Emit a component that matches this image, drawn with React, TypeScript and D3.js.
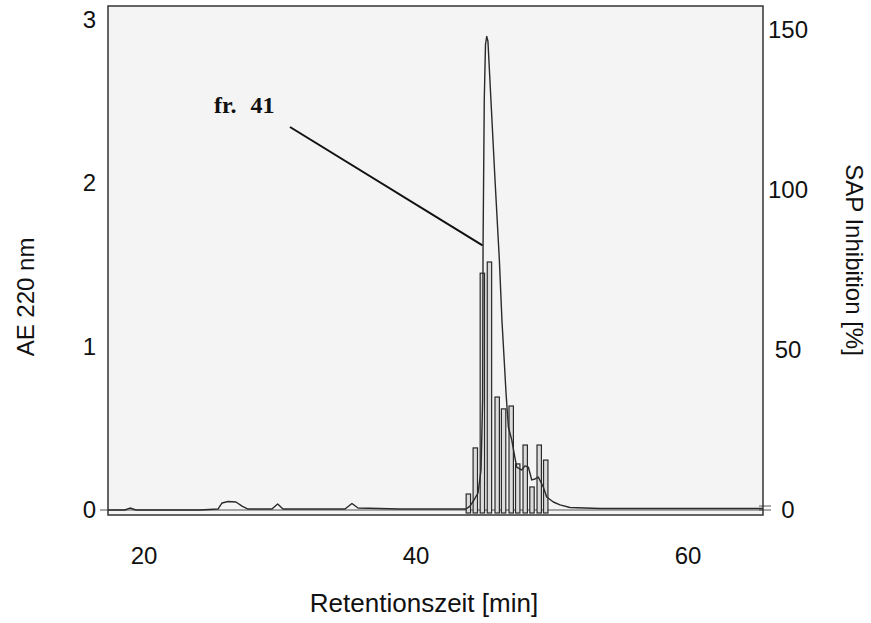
import { useEffect, useRef } from "react";
import * as d3 from "d3";

// chromatogram trace: retention time [min] and absorbance at 220 nm
const traceTime = [
  17.35, 18.6, 18.97, 19.41, 24.12, 25.44, 25.74, 26.18, 26.76, 27.21, 27.65, 29.41, 29.83, 30.22,
  34.78, 35.29, 35.74, 38.82, 43.68, 43.97, 44.26, 44.56, 44.78, 44.9, 44.93, 45.02, 45.11, 45.2,
  45.29, 45.51, 45.81, 46.13, 46.32, 46.47, 46.62, 46.79, 47.04, 47.4, 47.77, 48.01, 48.26, 48.51,
  48.75, 48.99, 49.36, 49.61, 50.1, 50.59, 51.32, 53.53, 65.51,
];
const traceAE = [
  0, 0, 0.012, 0, 0, 0.006, 0.043, 0.052, 0.049, 0.024, 0.006, 0.006, 0.037, 0.006,
  0.006, 0.04, 0.012, 0.006, 0.006, 0.024, 0.061, 0.104, 0.245, 0.673, 1.61, 2.51, 2.85, 2.9,
  2.87, 2.51, 2.02, 1.53, 1.16, 0.94, 0.716, 0.508, 0.429, 0.263, 0.245, 0.27, 0.263, 0.184,
  0.19, 0.202, 0.141, 0.08, 0.049, 0.031, 0.015, 0.009, 0.009,
];

// collected fractions 39..50: centre time and SAP inhibition [%]
const fractionNo = [39, 40, 41, 42, 43, 44, 45, 46, 47, 48, 49, 50];
const fractionTime = [43.85, 44.36, 44.88, 45.4, 45.97, 46.44, 47.0, 47.48, 48.03, 48.53, 49.06, 49.54];
const inhibition = [5, 19.4, 74, 77.5, 35.3, 31.6, 32.5, 14.4, 20.3, 7.2, 20.3, 15.6];

const xTicks = [20, 40, 60];
const leftTicks = [0, 1, 2, 3];
const rightTicks = [0, 50, 100, 150];

// where the "fr. 41" pointer ends on the trace
const pointerTarget = { t: 44.89, v: 1.62 };

const W = 871;
const H = 623;
const frame = { left: 108, right: 763, top: 6, bottom: 515 };

export default function App() {
  const svgRef = useRef<SVGSVGElement>(null);

  useEffect(() => {
    if (!svgRef.current) return;
    const svg = d3.select(svgRef.current);
    svg.selectAll("*").remove();

    const x = d3.scaleLinear().domain([20, 60]).range([144, 688]);
    const yL = d3.scaleLinear().domain([0, 3]).range([510, 20]);
    const yR = d3.scaleLinear().domain([0, 150]).range([510, 30]);
    const font = "'Liberation Sans', Arial, sans-serif";
    const ink = "#2a2a2a";

    // plot area
    svg
      .append("rect")
      .attr("x", frame.left)
      .attr("y", frame.top)
      .attr("width", frame.right - frame.left)
      .attr("height", frame.bottom - frame.top)
      .attr("fill", "#f4f4f4");

    // zero line
    svg
      .append("line")
      .attr("x1", frame.left - 8)
      .attr("x2", frame.right)
      .attr("y1", yL(0))
      .attr("y2", yL(0))
      .attr("stroke", "#555")
      .attr("stroke-width", 1);
    [yR(0) - 4, yR(0)].forEach((yy) => {
      svg
        .append("line")
        .attr("x1", frame.right - 4)
        .attr("x2", frame.right + 8)
        .attr("y1", yy)
        .attr("y2", yy)
        .attr("stroke", "#555")
        .attr("stroke-width", 1);
    });

    // inhibition bars
    const barW = 4.4;
    fractionNo.forEach((_, i) => {
      svg
        .append("rect")
        .attr("x", x(fractionTime[i]) - barW / 2)
        .attr("y", yR(inhibition[i]))
        .attr("width", barW)
        .attr("height", frame.bottom - 2 - yR(inhibition[i]))
        .attr("fill", "#dcdcdc")
        .attr("stroke", ink)
        .attr("stroke-width", 1.2);
    });

    // chromatogram trace
    const line = d3
      .line<number>()
      .x((_, i) => x(traceTime[i]))
      .y((d) => yL(d))
      .curve(d3.curveLinear);
    svg
      .append("path")
      .datum(traceAE)
      .attr("fill", "none")
      .attr("stroke", ink)
      .attr("stroke-width", 1.4)
      .attr("stroke-linejoin", "round")
      .attr("d", line);

    // frame
    svg
      .append("rect")
      .attr("x", frame.left)
      .attr("y", frame.top)
      .attr("width", frame.right - frame.left)
      .attr("height", frame.bottom - frame.top)
      .attr("fill", "none")
      .attr("stroke", "#333")
      .attr("stroke-width", 1.5);

    // tick labels
    xTicks.forEach((t) => {
      svg
        .append("text")
        .attr("x", x(t))
        .attr("y", 564)
        .attr("text-anchor", "middle")
        .attr("font-family", font)
        .attr("font-size", 24)
        .attr("fill", "#111")
        .text(t);
    });
    leftTicks.forEach((t) => {
      svg
        .append("text")
        .attr("x", 96)
        .attr("y", yL(t) + 8)
        .attr("text-anchor", "end")
        .attr("font-family", font)
        .attr("font-size", 24)
        .attr("fill", "#111")
        .text(t);
    });
    rightTicks.forEach((t) => {
      svg
        .append("text")
        .attr("x", 788)
        .attr("y", yR(t) + 8)
        .attr("text-anchor", "middle")
        .attr("font-family", font)
        .attr("font-size", 24)
        .attr("fill", "#111")
        .text(t);
    });

    // axis titles
    svg
      .append("text")
      .attr("transform", `translate(34,297) rotate(-90)`)
      .attr("text-anchor", "middle")
      .attr("font-family", font)
      .attr("font-size", 24)
      .attr("fill", "#111")
      .text("AE 220 nm");
    svg
      .append("text")
      .attr("transform", `translate(846,260) rotate(90)`)
      .attr("text-anchor", "middle")
      .attr("font-family", font)
      .attr("font-size", 24)
      .attr("fill", "#111")
      .text("SAP Inhibition [%]");
    svg
      .append("text")
      .attr("x", 424)
      .attr("y", 612)
      .attr("text-anchor", "middle")
      .attr("font-family", font)
      .attr("font-size", 26)
      .attr("fill", "#111")
      .text("Retentionszeit [min]");

    // fraction 41 annotation
    svg
      .append("line")
      .attr("x1", 290)
      .attr("y1", 127)
      .attr("x2", x(pointerTarget.t))
      .attr("y2", yL(pointerTarget.v))
      .attr("stroke", "#111")
      .attr("stroke-width", 2);
    svg
      .append("text")
      .attr("x", 214)
      .attr("y", 113)
      .attr("font-family", "'Liberation Serif', 'Times New Roman', serif")
      .attr("font-weight", 700)
      .attr("font-size", 24)
      .attr("word-spacing", 8)
      .attr("fill", "#111")
      .text(`fr. ${fractionNo[2]}`);
  }, []);

  return (
    <svg
      ref={svgRef}
      width={W}
      height={H}
      style={{ position: "absolute", left: 0, top: 0, background: "#fff" }}
    />
  );
}
